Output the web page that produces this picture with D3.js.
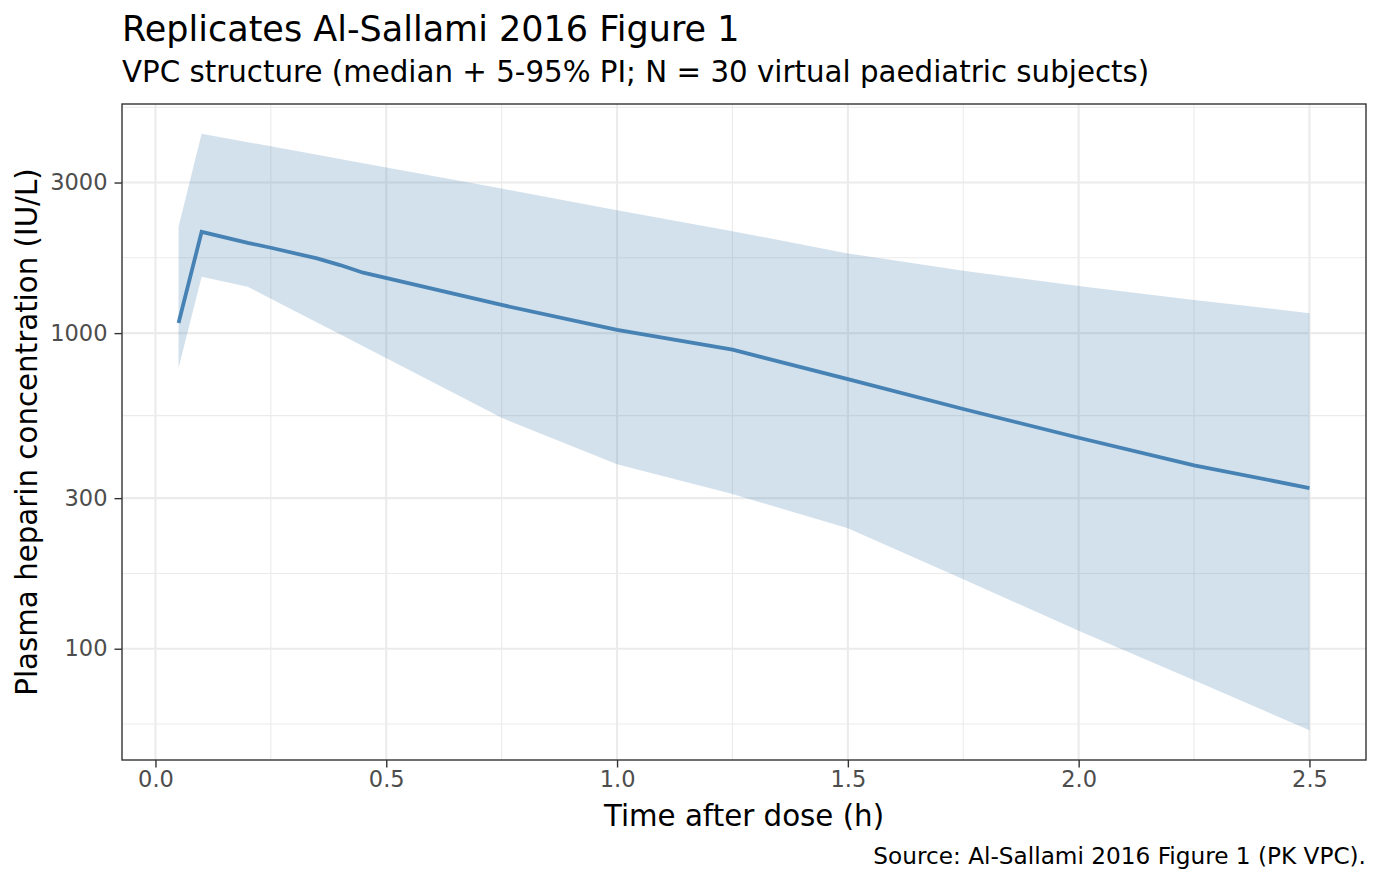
<!DOCTYPE html>
<html>
<head>
<meta charset="utf-8">
<script src="https://cdn.jsdelivr.net/npm/d3@7"></script>
<style>
  body { margin: 0; background: #fff; }
  svg { font-family: "DejaVu Sans", sans-serif; }
</style>
</head>
<body>
<svg id="vpc_plot" width="1382" height="883"></svg>
<script>
// Time points (h) and VPC summaries (IU/L)
const times = [0.05, 0.1, 0.2, 0.25, 0.35, 0.4, 0.45, 0.75, 1.0, 1.25, 1.5, 1.75, 2.0, 2.25, 2.5];
const median_conc = [1076, 2094, 1932, 1864, 1725, 1643, 1554, 1228, 1024, 886, 715, 575, 466, 381, 323];
const p05_conc = [775, 1509, 1403, 1286, 1081, 991, 908, 539, 384, 309, 241, 166, 114, 79.4, 55.2];
const p95_conc = [2171, 4280, 4027, 3906, 3672, 3561, 3454, 2870, 2451, 2104, 1789, 1576, 1411, 1274, 1157];

// Axis breaks
const x_breaks = [0, 0.5, 1.0, 1.5, 2.0, 2.5];
const y_breaks = [100, 300, 1000, 3000];

const title_text = 'Replicates Al-Sallami 2016 Figure 1';
const subtitle_text = 'VPC structure (median + 5-95% PI; N = 30 virtual paediatric subjects)';
const x_title = 'Time after dose (h)';
const y_title = 'Plasma heparin concentration (IU/L)';
const caption_text = 'Source: Al-Sallami 2016 Figure 1 (PK VPC).';

const svg = d3.select('#vpc_plot');

// Panel box
const panel = { left: 122, right: 1366, top: 104, bottom: 760 };

const data = times.map((t, i) => ({ t: t, med: median_conc[i], lo: p05_conc[i], hi: p95_conc[i] }));

// x scale with 5% expansion like ggplot
const xmin = d3.min(times), xmax = d3.max(times);
const xpad = (xmax - xmin) * 0.05;
const xScale = d3.scaleLinear()
    .domain([xmin - xpad, xmax + xpad])
    .range([panel.left, panel.right]);

// log y scale, expansion in log space
const lmin = Math.log10(d3.min(p05_conc)), lmax = Math.log10(d3.max(p95_conc));
const lpad = (lmax - lmin) * 0.05;
const yScale = d3.scaleLog()
    .domain([Math.pow(10, lmin - lpad), Math.pow(10, lmax + lpad)])
    .range([panel.bottom, panel.top]);

// minor breaks: midpoints between majors (in transformed space)
const x_minor = [];
const xd = x_breaks[1] - x_breaks[0];
[x_breaks[0] - xd, ...x_breaks, x_breaks[x_breaks.length - 1] + xd].forEach((b, i, arr) => {
    if (i > 0) x_minor.push((arr[i - 1] + b) / 2);
});
const xdom = xScale.domain();
const x_minor_in = x_minor.filter(v => v >= xdom[0] && v <= xdom[1]);

const lb = y_breaks.map(v => Math.log10(v));
const ld = lb[1] - lb[0];
const lb_ext = [lb[0] - ld, ...lb, lb[lb.length - 1] + ld];
const y_minor_in = [];
lb_ext.forEach((b, i) => {
    if (i > 0) {
        const m = (lb_ext[i - 1] + b) / 2;
        if (m >= lmin - lpad && m <= lmax + lpad) y_minor_in.push(Math.pow(10, m));
    }
});

const grid = svg.append('g');

// minor gridlines
grid.selectAll('.xminor').data(x_minor_in).enter().append('line')
    .attr('x1', d => xScale(d)).attr('x2', d => xScale(d))
    .attr('y1', panel.top).attr('y2', panel.bottom)
    .attr('stroke', '#ebebeb').attr('stroke-width', 1.1);
grid.selectAll('.yminor').data(y_minor_in).enter().append('line')
    .attr('x1', panel.left).attr('x2', panel.right)
    .attr('y1', d => yScale(d)).attr('y2', d => yScale(d))
    .attr('stroke', '#ebebeb').attr('stroke-width', 1.1);

// major gridlines
grid.selectAll('.xmajor').data(x_breaks).enter().append('line')
    .attr('x1', d => xScale(d)).attr('x2', d => xScale(d))
    .attr('y1', panel.top).attr('y2', panel.bottom)
    .attr('stroke', '#ebebeb').attr('stroke-width', 2.1);
grid.selectAll('.ymajor').data(y_breaks).enter().append('line')
    .attr('x1', panel.left).attr('x2', panel.right)
    .attr('y1', d => yScale(d)).attr('y2', d => yScale(d))
    .attr('stroke', '#ebebeb').attr('stroke-width', 2.1);

// 5-95% ribbon
const area = d3.area()
    .x(d => xScale(d.t))
    .y0(d => yScale(d.lo))
    .y1(d => yScale(d.hi));
svg.append('path')
    .datum(data)
    .attr('d', area)
    .attr('fill', 'steelblue')
    .attr('fill-opacity', 0.24);

// median line
const line = d3.line()
    .x(d => xScale(d.t))
    .y(d => yScale(d.med));
svg.append('path')
    .datum(data)
    .attr('d', line)
    .attr('fill', 'none')
    .attr('stroke', 'steelblue')
    .attr('stroke-width', 3.8);

// panel border
svg.append('rect')
    .attr('x', panel.left).attr('y', panel.top)
    .attr('width', panel.right - panel.left)
    .attr('height', panel.bottom - panel.top)
    .attr('fill', 'none')
    .attr('stroke', '#333333')
    .attr('stroke-width', 1.4);

// axes
const xAxis = d3.axisBottom(xScale)
    .tickValues(x_breaks)
    .tickFormat(d3.format('.1f'))
    .tickSize(7.5)
    .tickPadding(4);
const yAxis = d3.axisLeft(yScale)
    .tickValues(y_breaks)
    .tickFormat(d3.format('d'))
    .tickSize(7.5)
    .tickPadding(7);

const gx = svg.append('g')
    .attr('transform', `translate(0,${panel.bottom})`)
    .call(xAxis);
const gy = svg.append('g')
    .attr('transform', `translate(${panel.left},0)`)
    .call(yAxis);

[gx, gy].forEach(g => {
    g.select('.domain').remove();
    g.selectAll('.tick line').attr('stroke', '#333333').attr('stroke-width', 1.4);
    g.selectAll('.tick text')
        .attr('fill', '#4d4d4d')
        .style('font-size', '22.5px')
        .style('font-family', '"DejaVu Sans", sans-serif');
});

// titles
svg.append('text')
    .attr('x', panel.left).attr('y', 41)
    .style('font-size', '35px')
    .attr('fill', '#000')
    .text(title_text);

svg.append('text')
    .attr('x', panel.left).attr('y', 82)
    .style('font-size', '29.3px')
    .attr('fill', '#000')
    .text(subtitle_text);

svg.append('text')
    .attr('x', (panel.left + panel.right) / 2).attr('y', 826)
    .attr('text-anchor', 'middle')
    .style('font-size', '29.3px')
    .text(x_title);

svg.append('text')
    .attr('transform', `translate(37,${(panel.top + panel.bottom) / 2}) rotate(-90)`)
    .attr('text-anchor', 'middle')
    .style('font-size', '29.3px')
    .text(y_title);

svg.append('text')
    .attr('x', panel.right).attr('y', 864)
    .attr('text-anchor', 'end')
    .style('font-size', '23.2px')
    .text(caption_text);
</script>
</body>
</html>
